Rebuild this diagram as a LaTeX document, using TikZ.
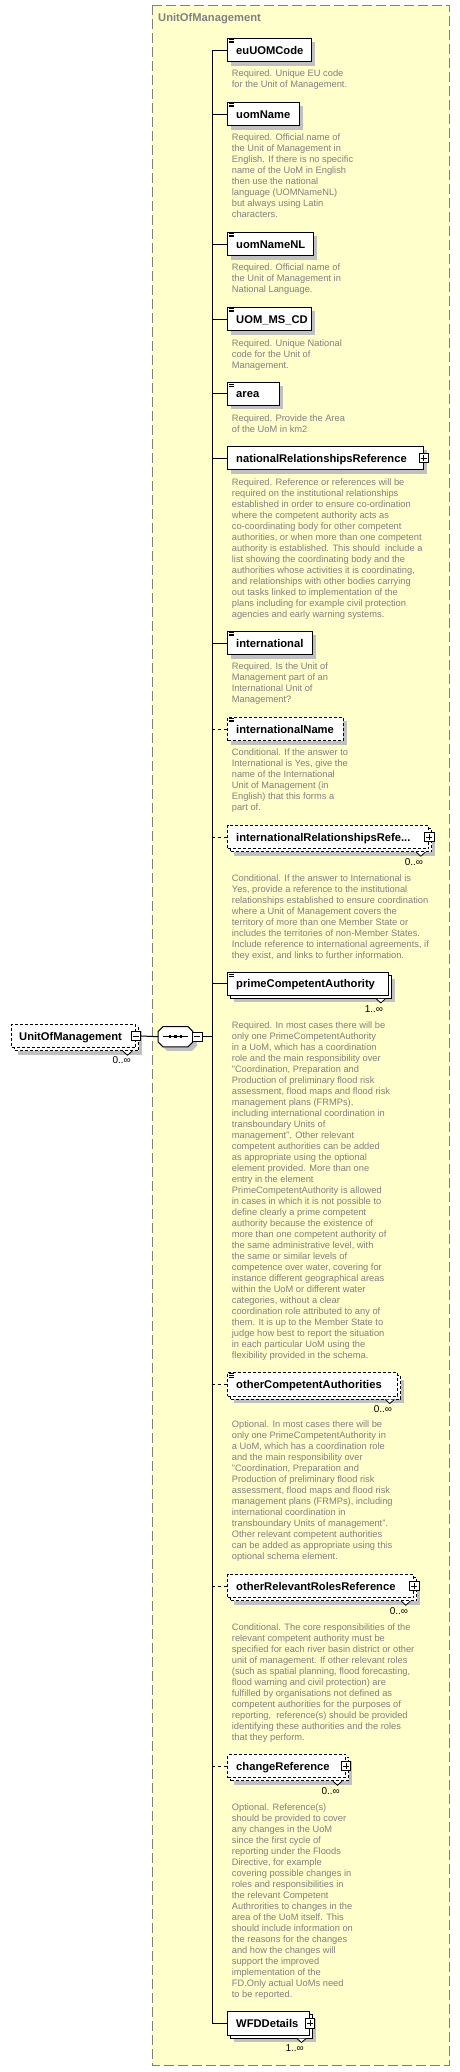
\documentclass[tikz,border=0pt]{standalone}
\usepackage{fontspec}
\setmainfont{Liberation Sans}
\usetikzlibrary{calc}
\definecolor{uomyellow}{RGB}{255,255,204}
\definecolor{descgray}{RGB}{128,128,128}
\definecolor{shadowgray}{RGB}{192,192,192}
\definecolor{bordergray}{RGB}{128,128,128}
\tikzset{
 ebox/.style={draw=black, fill=white, line width=1pt, minimum height=23.4pt, inner sep=0pt},
 optbox/.style={dash pattern=on 3pt off 2pt},
 elabel/.style={anchor=west, inner sep=0pt, font=\fontsize{11.2}{13}\selectfont\bfseries, text height=8pt, text depth=0pt},
 desc/.style={anchor=north west, inner sep=0pt, align=left, text=descgray, font=\fontsize{9.3}{11}\selectfont},
 mult/.style={anchor=east, inner sep=0pt, font=\fontsize{10}{12}\selectfont, text height=7pt, text depth=0pt},
 pmbox/.style={draw=black, fill=white, line width=0.8pt, minimum size=9.5pt, inner sep=0pt},
 conn/.style={line width=1pt},
 optconn/.style={line width=1pt, dash pattern=on 3.3pt off 2.7pt},
}
\newcommand\ElemS[5]{%
 \fill[shadowgray] (231.3,#3-7.7) rectangle ++(#2,23.4);
 \node[ebox,#4,minimum width=#2pt,anchor=west] (#1) at (227.3,#3) {};
 \node[elabel] (#1-t) at ([xshift=8.7pt]#1.west) {#5};
}
\newcommand\ElemM[6]{%
 \fill[shadowgray] (234.3,#3-4.7) rectangle ++(#2,23.4);
 \node[ebox,#4,minimum width=#2pt,anchor=west] (#1-b) at (230.3,#3+3) {};
 \draw[line width=0.8pt, fill=white] ([xshift=-16pt]#1-b.south east) -- ++(4.5,4) -- ++(4.5,-4);
 \node[ebox,#4,minimum width=#2pt,anchor=west] (#1) at (227.3,#3) {};
 \node[elabel] (#1-t) at ([xshift=8.7pt]#1.west) {#5};
 \node[mult] (#1-m) at ($(#1.east)+(-6,25)$) {#6};
}
\newcommand\AnnIcon[1]{%
 \draw[line width=0.7pt] ([shift={(2,1.3)}]#1.north west) -- ++(5,0)
   ([shift={(2,3.1)}]#1.north west) -- ++(5,0)
   ([shift={(2,4.9)}]#1.north west) -- ++(5,0);}
\newcommand\PlusIcon[2]{%
 \node[pmbox] (#1) at (#2) {};
 \draw[line width=0.8pt] ([xshift=-3pt]#1.center) -- ([xshift=3pt]#1.center)
   ([yshift=-3pt]#1.center) -- ([yshift=3pt]#1.center);}
\newcommand\MinusIcon[2]{%
 \node[pmbox] (#1) at (#2) {};
 \draw[line width=0.8pt] ([xshift=-3pt]#1.center) -- ([xshift=3pt]#1.center);}
\begin{document}
\begin{tikzpicture}[x=1pt,y=-1pt]
\useasboundingbox (0,0) rectangle (460,2072);
% frame
\draw[fill=uomyellow, draw=bordergray, line width=1pt, dash pattern=on 10pt off 4pt] (152,5) rectangle (449,2065);
\node[anchor=west, inner sep=0pt, text=descgray, font=\fontsize{11.2}{13}\selectfont\bfseries] (title) at (158,19) {UnitOfManagement};
\coordinate (sp) at (212,0);

% elements
\ElemS{euc}{83.4}{50}{}{euUOMCode}\AnnIcon{euc}
\node[desc] (euc-d) at (231.7,68.6) {\strut Required. Unique EU code\\for the Unit of Management.};

\ElemS{uomn}{71.4}{114}{}{uomName}\AnnIcon{uomn}
\node[desc] (uomn-d) at (231.7,132.9) {\strut Required. Official name of\\the Unit of Management in\\English. If there is no specific\\name of the UoM in English\\then use the national\\language (UOMNameNL)\\but always using Latin\\characters.};

\ElemS{uomnl}{85.4}{244}{}{uomNameNL}\AnnIcon{uomnl}
\node[desc] (uomnl-d) at (231.7,262.9) {\strut Required. Official name of\\the Unit of Management in\\National Language.};

\ElemS{uomms}{84}{319}{}{UOM\_MS\_CD}\AnnIcon{uomms}
\node[desc] (uomms-d) at (231.7,338.3) {\strut Required. Unique National\\code for the Unit of\\Management.};

\ElemS{area}{51.7}{393.7}{}{area}\AnnIcon{area}
\node[desc] (area-d) at (231.7,413.3) {\strut Required. Provide the Area\\of the UoM in km2};

\ElemS{natrel}{195.4}{458}{}{nationalRelationshipsReference}
\PlusIcon{natrel-p}{natrel.east}
\node[desc] (natrel-d) at (231.7,477.3) {\strut Required. Reference or references will be\\required on the institutional relationships\\established in order to ensure co-ordination\\where the competent authority acts as\\co-coordinating body for other competent\\authorities, or when more than one competent\\authority is established. This should\ \ include a\\list showing the coordinating body and the\\authorities whose activities it is coordinating,\\and relationships with other bodies carrying\\out tasks linked to implementation of the\\plans including for example civil protection\\agencies and early warning systems.};

\ElemS{intl}{84.4}{643}{}{international}\AnnIcon{intl}
\node[desc] (intl-d) at (231.7,661.9) {\strut Required. Is the Unit of\\Management part of an\\International Unit of\\Management?};

\ElemS{intlname}{115.4}{729}{optbox}{internationalName}\AnnIcon{intlname}
\node[desc] (intlname-d) at (231.7,747.9) {\strut Conditional. If the answer to\\International is Yes, give the\\name of the International\\Unit of Management (in\\English) that this forms a\\part of.};

\ElemM{intlrel}{201}{837}{optbox}{internationalRelationshipsRefe...}{0..∞}
\PlusIcon{intlrel-p}{intlrel.east}
\node[desc] (intlrel-d) at (231.7,873.6) {\strut Conditional. If the answer to International is\\Yes, provide a reference to the institutional\\relationships established to ensure coordination\\where a Unit of Management covers the\\territory of more than one Member State or\\includes the territories of non-Member States.\\Include reference to international agreements, if\\they exist, and links to further information.};

\ElemM{prime}{161}{983.7}{}{primeCompetentAuthority}{1..∞}\AnnIcon{prime}
\node[desc] (prime-d) at (231.7,1020.6) {\strut Required. In most cases there will be\\only one PrimeCompetentAuthority\\in a UoM, which has a coordination\\role and the main responsibility over\\"Coordination, Preparation and\\Production of preliminary flood risk\\assessment, flood maps and flood risk\\management plans (FRMPs),\\including international coordination in\\transboundary Units of\\management". Other relevant\\competent authorities can be added\\as appropriate using the optional\\element provided. More than one\\entry in the element\\PrimeCompetentAuthority is allowed\\in cases in which it is not possible to\\define clearly a prime competent\\authority because the existence of\\more than one competent authority of\\the same administrative level, with\\the same or similar levels of\\competence over water, covering for\\instance different geographical areas\\within the UoM or different water\\categories, without a clear\\coordination role attributed to any of\\them. It is up to the Member State to\\judge how best to report the situation\\in each particular UoM using the\\flexibility provided in the schema.};

\ElemM{othca}{170}{1384.3}{optbox}{otherCompetentAuthorities}{0..∞}\AnnIcon{othca}
\node[desc] (othca-d) at (231.7,1419.9) {\strut Optional. In most cases there will be\\only one PrimeCompetentAuthority in\\a UoM, which has a coordination role\\and the main responsibility over\\"Coordination, Preparation and\\Production of preliminary flood risk\\assessment, flood maps and flood risk\\management plans (FRMPs), including\\international coordination in\\transboundary Units of management".\\Other relevant competent authorities\\can be added as appropriate using this\\optional schema element.};

\ElemM{othrr}{186}{1586}{optbox}{otherRelevantRolesReference}{0..∞}
\PlusIcon{othrr-p}{othrr.east}
\node[desc] (othrr-d) at (231.7,1622.3) {\strut Conditional. The core responsibilities of the\\relevant competent authority must be\\specified for each river basin district or other\\unit of management. If other relevant roles\\(such as spatial planning, flood forecasting,\\flood warning and civil protection) are\\fulfilled by organisations not defined as\\competent authorities for the purposes of\\reporting,\ \ reference(s) should be provided\\identifying these authorities and the roles\\that they perform.};

\ElemM{chref}{117.7}{1766}{optbox}{changeReference}{0..∞}
\PlusIcon{chref-p}{chref.east}
\node[desc] (chref-d) at (231.7,1802.6) {\strut Optional. Reference(s)\\should be provided to cover\\any changes in the UoM\\since the first cycle of\\reporting under the Floods\\Directive, for example\\covering possible changes in\\roles and responsibilities in\\the relevant Competent\\Authrorities to changes in the\\area of the UoM itself. This\\should include information on\\the reasons for the changes\\and how the changes will\\support the improved\\implementation of the\\FD.Only actual UoMs need\\to be reported.};

\ElemM{wfd}{81.7}{2023.3}{}{WFDDetails}{1..∞}
\PlusIcon{wfd-p}{wfd.east}

% spine and connectors
\draw[conn] (euc.west -| sp) -- (wfd.west -| sp);
\foreach \n in {euc,uomn,uomnl,uomms,area,natrel,intl,prime,wfd}
  \draw[conn] (\n.west -| sp) -- (\n.west);
\foreach \n in {intlname,intlrel,othca,othrr,chref}
  \draw[optconn] (\n.west -| sp) -- (\n.west);

% sequence compositor
\node[minimum width=34.4pt, minimum height=20pt, inner sep=0pt] (seq) at (175.5,1036.7) {};
\fill[shadowgray] ([shift={(9,4)}]seq.north west) -- ([shift={(-1,4)}]seq.north east) -- ([shift={(4,9)}]seq.north east) -- ([shift={(4,-1)}]seq.south east) -- ([shift={(-1,4)}]seq.south east) -- ([shift={(9,4)}]seq.south west) -- ([shift={(4,-1)}]seq.south west) -- ([shift={(4,9)}]seq.north west) -- cycle;
\draw[line width=1pt, fill=white] ([xshift=5pt]seq.north west) -- ([xshift=-5pt]seq.north east) -- ([shift={(0,5)}]seq.north east) -- ([shift={(0,-5)}]seq.south east) -- ([xshift=-5pt]seq.south east) -- ([xshift=5pt]seq.south west) -- ([shift={(0,-5)}]seq.south west) -- ([shift={(0,5)}]seq.north west) -- cycle;
\draw[line width=1pt] ([xshift=5pt]seq.west) -- ([xshift=-5pt]seq.east);
\foreach \dx in {-5.5,0,5.5}
  \fill ([xshift=\dx pt]seq.center) +(-1.4,-1.4) rectangle +(1.4,1.4);
\MinusIcon{seq-m}{197.2,1036.7}
\draw[conn] (seq-m.east) -- (seq-m.east -| sp);

% root element
\fill[shadowgray] (18,1036-4.7) rectangle ++(124,23.4);
\node[ebox,optbox,minimum width=124pt,anchor=west] (uom-b) at (14,1039) {};
\draw[line width=0.8pt, fill=white] ([xshift=-16pt]uom-b.south east) -- ++(4.5,4) -- ++(4.5,-4);
\node[ebox,optbox,minimum width=124pt,anchor=west] (uom) at (11,1036) {};
\node[elabel] (uom-t) at ([xshift=8pt]uom.west) {UnitOfManagement};
\node[mult] (uom-mu) at ($(uom.east)+(-5,24)$) {0..∞};
\MinusIcon{uom-m}{uom.east}
\draw[conn] (uom-m.east) -- (seq.west);
\end{tikzpicture}
\end{document}
